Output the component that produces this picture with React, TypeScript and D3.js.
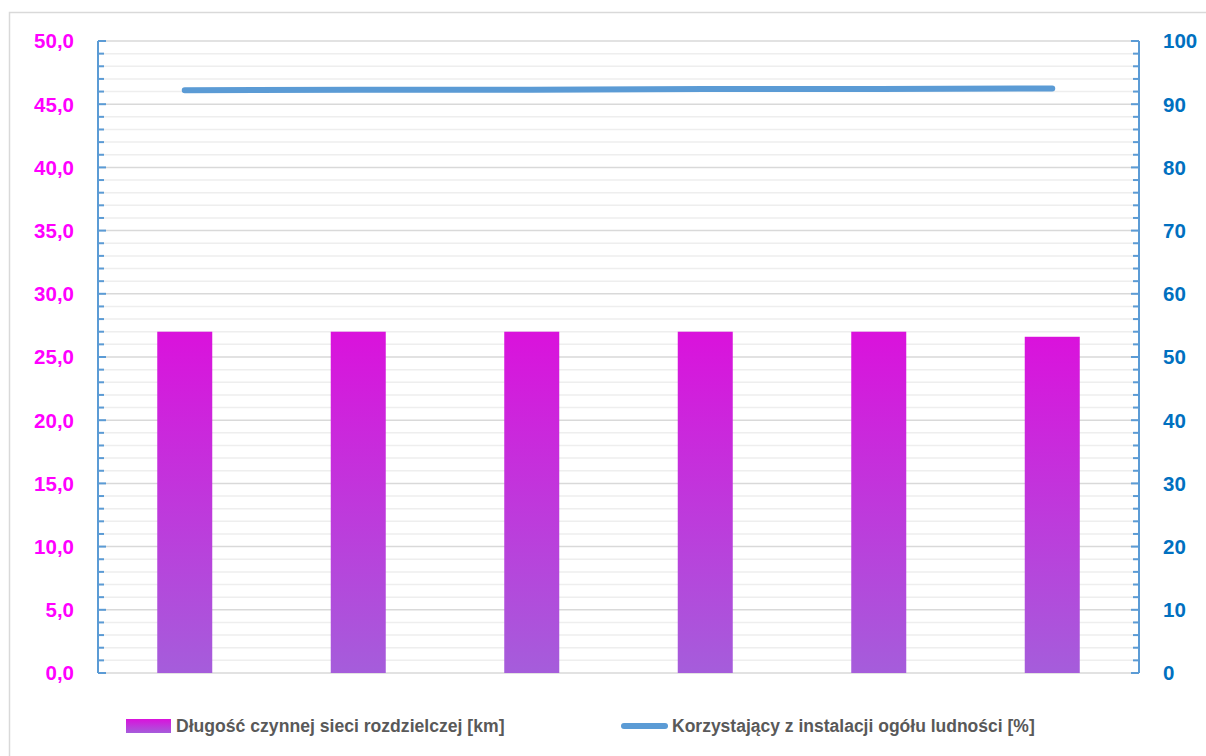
import React from "react";
import * as d3 from "d3";

const categories = ["1", "2", "3", "4", "5", "6"];
const networkLengthKm = [27.0, 27.0, 27.0, 27.0, 27.0, 26.6];
const usersPercent = [92.2, 92.3, 92.3, 92.4, 92.4, 92.5];
const leftTicks = [0, 5, 10, 15, 20, 25, 30, 35, 40, 45, 50];
const rightTicks = [0, 10, 20, 30, 40, 50, 60, 70, 80, 90, 100];
const barLabel = "Długość czynnej sieci rozdzielczej [km]";
const lineLabel = "Korzystający z instalacji ogółu ludności [%]";

const W = 1206;
const H = 756;
const L = 98;
const R = 1139;
const T = 41;
const B = 673;
const FONT = "'Liberation Sans', Arial, sans-serif";

export default function App() {
  const x = d3.scaleBand<string>().domain(categories).range([L, R]).paddingInner(0.683).paddingOuter(0.3415);
  const yL = d3.scaleLinear().domain([0, 50]).range([B, T]);
  const yR = d3.scaleLinear().domain([0, 100]).range([B, T]);
  const minor = d3.range(0, 51, 1);
  const fmtL = (v: number) => v.toFixed(1).replace(".", ",");
  const line = d3
    .line<number>()
    .x((_, i) => (x(categories[i]) as number) + x.bandwidth() / 2)
    .y((d) => yR(d));

  return (
    <svg
      width={W}
      height={H}
      style={{ position: "absolute", left: 0, top: 0, background: "#fff" }}
      fontFamily={FONT}
    >
      <defs>
        <linearGradient id="barGrad" x1="0" y1="0" x2="0" y2="1">
          <stop offset="0" stopColor="#da12dc" />
          <stop offset="1" stopColor="#a55ddb" />
        </linearGradient>
        <linearGradient id="legGrad" x1="0" y1="0" x2="0" y2="1">
          <stop offset="0" stopColor="#da12dc" />
          <stop offset="1" stopColor="#a55ddb" />
        </linearGradient>
      </defs>
      <rect x={9.5} y={12.5} width={W + 20} height={H + 20} fill="#fff" stroke="#d9d9d9" strokeWidth={1.5} />

      {/* minor gridlines */}
      {minor
        .filter((v) => v % 5 !== 0)
        .map((v) => (
          <line key={"m" + v} x1={L} x2={R} y1={yL(v)} y2={yL(v)} stroke="#eeeeee" strokeWidth={1.5} />
        ))}
      {leftTicks.map((v) => (
        <line key={"g" + v} x1={L} x2={R} y1={yL(v)} y2={yL(v)} stroke="#d9d9d9" strokeWidth={1.5} />
      ))}

      {/* bars */}
      {networkLengthKm.map((v, i) => (
        <rect
          key={"b" + i}
          x={x(categories[i])}
          y={yL(v)}
          width={x.bandwidth()}
          height={B - yL(v)}
          fill="url(#barGrad)"
        />
      ))}

      {/* axes */}
      <line x1={L} x2={L} y1={T} y2={B} stroke="#5b9bd5" strokeWidth={2} />
      <line x1={R} x2={R} y1={T} y2={B} stroke="#5b9bd5" strokeWidth={2} />
      {minor.map((v) => {
        const maj = v % 5 === 0;
        return (
          <g key={"t" + v}>
            <line x1={L} x2={L + (maj ? 8 : 6)} y1={yL(v)} y2={yL(v)} stroke="#5b9bd5" strokeWidth={2} />
            <line x1={R} x2={R - (maj ? 8 : 6)} y1={yL(v)} y2={yL(v)} stroke="#5b9bd5" strokeWidth={2} />
          </g>
        );
      })}

      {/* line series */}
      <path
        d={line(usersPercent) || ""}
        fill="none"
        stroke="#5b9bd5"
        strokeWidth={6}
        strokeLinecap="round"
        strokeLinejoin="round"
      />

      {/* tick labels */}
      {leftTicks.map((v) => (
        <text
          key={"lt" + v}
          x={74}
          y={yL(v)}
          dy="0.36em"
          textAnchor="end"
          fontSize={20.5}
          fontWeight="bold"
          fill="#ff00ff"
        >
          {fmtL(v)}
        </text>
      ))}
      {rightTicks.map((v) => (
        <text
          key={"rt" + v}
          x={1163}
          y={yR(v)}
          dy="0.36em"
          textAnchor="start"
          fontSize={20.5}
          fontWeight="bold"
          fill="#0070c0"
        >
          {v}
        </text>
      ))}

      {/* legend */}
      <rect x={126} y={719} width={45} height={14} fill="url(#legGrad)" />
      <text x={176} y={726} dy="0.36em" fontSize={17.6} fontWeight="bold" fill="#595959">
        {barLabel}
      </text>
      <line x1={624} x2={665} y1={726} y2={726} stroke="#5b9bd5" strokeWidth={6} strokeLinecap="round" />
      <text x={672} y={726} dy="0.36em" fontSize={17.5} fontWeight="bold" fill="#595959">
        {lineLabel}
      </text>
    </svg>
  );
}
